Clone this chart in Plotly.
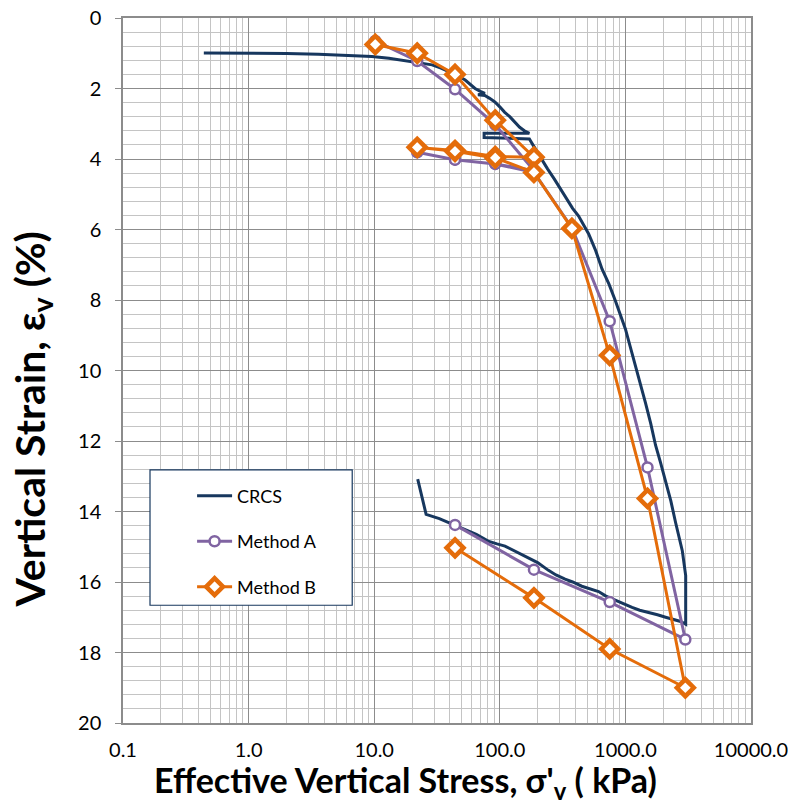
import plotly.graph_objects as go

# ---- Data ----
crcs_stress = [0.44, 0.7, 1.2, 2.0, 3.6, 6.3, 9.6, 13.1, 17, 21.3, 28.9, 34, 39.1, 46, 53, 58, 63.5,
               70, 76, 67, 76, 83, 91.3, 100, 109, 120, 131, 144, 157, 172, 130, 100, 75, 75, 100,
               130, 172, 185, 200, 213, 240, 272, 310, 346, 380, 424, 509, 580, 651, 740, 832,
               1000, 1100, 1202, 1320, 1445, 1590, 1738, 1900, 2089, 2300, 2512, 2700, 2840,
               3020, 3020, 2754, 2400, 2089, 1800, 1537, 1300, 1130, 950, 832, 700, 612, 520,
               450, 380, 331, 280, 244, 200, 168, 140, 110, 95, 80.7, 65, 52, 41, 33, 25.9, 22.2]
crcs_strain = [0.99, 0.99, 0.99, 1.01, 1.03, 1.06, 1.09, 1.14, 1.2, 1.24, 1.33, 1.42, 1.52, 1.63,
               1.76, 1.88, 2.0, 2.08, 2.14, 2.18, 2.2, 2.28, 2.38, 2.52, 2.67, 2.8, 2.95, 3.1,
               3.2, 3.27, 3.27, 3.26, 3.27, 3.39, 3.40, 3.41, 3.43, 3.62, 3.82, 4.0, 4.28, 4.57,
               4.9, 5.2, 5.4, 5.62, 6.12, 6.6, 7.12, 7.55, 8.02, 8.82, 9.35, 9.92, 10.4, 10.92,
               11.5, 12.12, 12.6, 13.12, 13.7, 14.32, 14.8, 15.12, 15.82, 17.2, 17.12, 17.07,
               17.0, 16.93, 16.87, 16.8, 16.72, 16.6, 16.52, 16.4, 16.27, 16.2, 16.12, 16.0,
               15.92, 15.8, 15.67, 15.45, 15.31, 15.15, 14.98, 14.92, 14.84, 14.65, 14.5,
               14.33, 14.2, 14.08, 13.08]

method_stress = [10.2, 22, 44, 92, 187, 92, 44, 22, 44, 92, 187, 375, 750, 1500, 3000, 750, 187, 44]
methodA_strain = [0.65, 1.22, 2.02, 3.03, 4.33, 4.14, 4.02, 3.81, 4.02, 4.14, 4.38, 5.95,
                  8.6, 12.75, 17.63, 16.57, 15.65, 14.38]
methodB_strain = [0.75, 1.0, 1.6, 2.9, 3.95, 3.93, 3.76, 3.67, 3.78, 3.97, 4.38, 5.97,
                  9.57, 13.63, 19.0, 17.9, 16.45, 15.03]

x_tickvals = [0.1, 1, 10, 100, 1000, 10000]
x_ticktext = ["0.1", "1.0", "10.0", "100.0", "1000.0", "10000.0"]

x_title = "Effective Vertical Stress, σ'<sub>v</sub> ( kPa)"
y_title = "Vertical Strain, ε<sub>v</sub> (%)"

# ---- Styles ----
NAVY = "#17375E"
PURPLE = "#8064A2"
ORANGE = "#E46C0A"
FONT = "Lato"

fig = go.Figure()
fig.add_trace(go.Scatter(x=crcs_stress, y=crcs_strain, mode="lines", name="CRCS",
                         legendgroup="a",
                         line=dict(color=NAVY, width=3)))
fig.add_trace(go.Scatter(x=method_stress, y=methodA_strain, mode="lines+markers", name="Method A",
                         legendgroup="b",
                         line=dict(color=PURPLE, width=3),
                         marker=dict(symbol="circle", size=10, color="white",
                                     line=dict(color=PURPLE, width=2.5))))
fig.add_trace(go.Scatter(x=method_stress, y=methodB_strain, mode="lines+markers", name="Method B",
                         legendgroup="c",
                         line=dict(color=ORANGE, width=3),
                         marker=dict(symbol="diamond", size=13, color="white",
                                     line=dict(color=ORANGE, width=4.5))))

minor_x = [m * 10 ** e for e in range(-1, 4) for m in range(2, 10)]

fig.update_xaxes(
    type="log", range=[-1, 4], automargin=False,
    tickmode="array", tickvals=x_tickvals, ticktext=x_ticktext,
    showgrid=True, gridcolor="#8C8C8C", gridwidth=1,
    minor=dict(tickmode="array", tickvals=minor_x, showgrid=True,
               gridcolor="#C4C4C4", gridwidth=1),
    showline=True, linecolor="#8C8C8C", linewidth=1.5, mirror=True,
    ticks="", ticklabelstandoff=8, ticklabeloverflow="allow",
    tickfont=dict(family=FONT, size=20, color="#000"),
    zeroline=False,
)
fig.update_yaxes(
    range=[20, 0], dtick=2, tick0=0, automargin=False,
    showgrid=True, gridcolor="#8C8C8C", gridwidth=1,
    minor=dict(dtick=0.4, showgrid=True, gridcolor="#C4C4C4", gridwidth=1),
    showline=True, linecolor="#8C8C8C", linewidth=1.5, mirror=True,
    ticks="outside", ticklen=6, tickcolor="#8C8C8C", ticklabelstandoff=10,
    ticklabeloverflow="allow",
    tickfont=dict(family=FONT, size=20, color="#000"),
    zeroline=False,
)

fig.update_layout(
    width=796, height=808,
    margin=dict(l=115, r=53, t=10, b=93),
    plot_bgcolor="white", paper_bgcolor="white",
    showlegend=True,
    legend=dict(x=0.11, y=0.348, xanchor="left", yanchor="top",
                bgcolor="rgba(0,0,0,0)", borderwidth=0,
                font=dict(family=FONT, size=18, color="#000"),
                traceorder="grouped", tracegroupgap=19, itemwidth=35),
    shapes=[dict(type="rect", xref="paper", yref="paper",
                 x0=0.043, x1=0.365, y0=0.167, y1=0.359,
                 line=dict(color=NAVY, width=1.2), fillcolor="white", layer="above")],
    annotations=[
        dict(text=x_title, xref="paper", yref="paper", x=0.45, y=-0.083,
             xanchor="center", yanchor="middle", showarrow=False,
             font=dict(family=FONT, size=34, color="#000", weight="bold")),
        dict(text=y_title, xref="paper", yref="paper", x=-0.144, y=0.43,
             xanchor="center", yanchor="middle", showarrow=False, textangle=-90,
             font=dict(family=FONT, size=41, color="#000", weight="bold")),
    ],
)

fig.write_html("out.html")
